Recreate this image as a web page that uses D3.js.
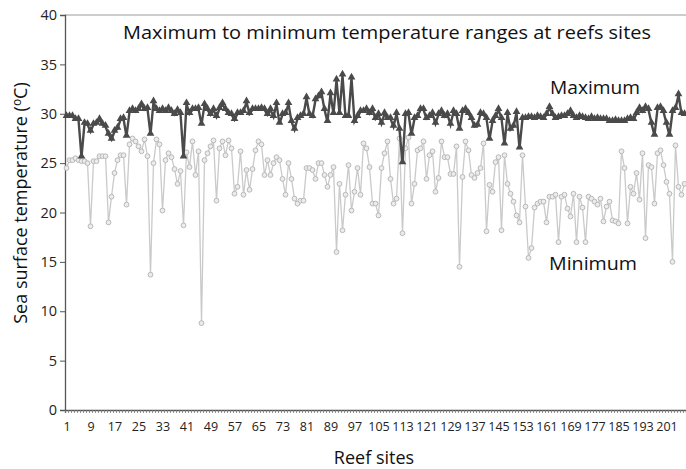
<!DOCTYPE html>
<html>
<head>
<meta charset="utf-8">
<script src="https://cdn.jsdelivr.net/npm/d3@7/dist/d3.min.js"></script>
<style>
html,body{margin:0;padding:0;background:#fff;}
svg{display:block;}
</style>
</head>
<body>
<script>
const sites = d3.range(1, 208);
const maxTemp = [
29.7,29.7,29.7,29.4,29.4,25.6,29.0,28.9,28.2,28.9,
29.0,29.4,28.9,28.7,27.9,27.4,28.2,28.5,29.4,29.5,
27.7,30.2,30.4,30.2,30.4,30.9,30.4,30.5,27.9,31.2,
30.4,30.2,30.4,30.2,30.5,30.2,29.9,30.3,30.0,25.6,
31.0,30.0,30.4,30.4,30.5,28.9,30.9,30.4,29.9,30.4,
29.7,30.5,31.0,30.4,30.0,29.9,29.4,30.0,30.0,30.2,
31.2,30.0,30.4,30.4,30.4,30.5,30.4,29.9,30.4,29.7,
31.0,29.0,29.9,30.0,31.0,29.2,28.4,29.5,29.7,29.9,
31.6,29.9,29.7,31.4,31.7,32.1,30.4,29.2,32.0,30.0,
33.4,30.0,33.9,29.7,29.7,33.6,29.2,29.7,30.2,30.2,
30.4,30.0,30.4,29.5,29.9,29.0,30.0,29.5,29.5,28.7,
30.0,28.4,25.0,29.9,30.0,27.9,29.5,29.7,30.4,30.4,
29.5,29.7,30.0,29.0,29.9,30.2,29.7,29.9,28.9,30.2,
29.9,28.4,30.2,30.4,30.0,29.5,28.7,28.8,30.0,29.9,
29.5,27.4,29.2,29.7,30.4,29.5,26.9,30.0,28.4,28.7,
30.1,26.5,29.5,29.5,29.6,29.6,29.5,29.7,29.6,29.5,
29.9,30.6,29.9,29.5,29.6,29.7,29.7,29.9,30.2,29.7,
29.5,29.7,29.6,29.5,29.4,29.6,29.4,29.5,29.4,29.4,
29.4,29.2,29.2,29.3,29.2,29.2,29.2,29.4,29.5,29.4,
30.0,30.5,30.2,30.6,30.4,29.0,27.8,30.5,30.6,30.2,
29.0,27.8,30.2,30.5,31.9,30.0,29.9
];
const minTemp = [
24.5,25.3,25.3,25.5,25.3,25.2,25.2,25.0,18.6,25.2,
25.2,25.7,25.7,25.7,19.0,21.6,24.0,25.3,25.8,25.8,
20.8,26.9,27.5,27.2,26.7,26.2,27.4,25.7,13.7,25.0,
27.4,26.9,20.2,25.3,26.0,25.6,24.4,22.9,24.2,18.7,
26.1,24.6,27.2,23.8,26.2,8.8,25.3,26.0,26.7,27.3,
21.2,26.5,27.2,25.8,27.3,26.5,21.9,22.6,26.2,21.8,
24.3,22.3,24.4,26.3,27.2,26.9,23.8,25.3,23.8,25.0,
25.6,25.3,23.4,21.8,25.0,23.4,21.4,20.9,21.2,21.2,
24.5,24.5,24.3,23.4,25.0,25.0,23.8,22.6,23.8,24.6,
16.0,22.9,18.2,21.8,24.8,20.2,22.1,24.5,21.8,27.0,
26.5,24.6,20.9,20.9,19.7,24.5,26.0,27.2,23.4,20.9,
21.4,27.5,17.9,26.5,27.6,20.9,22.9,26.3,26.5,27.2,
23.4,25.8,26.2,22.1,23.5,27.2,25.6,25.6,23.9,23.9,
26.7,14.5,23.6,27.2,26.3,23.8,23.5,24.0,24.5,27.0,
18.1,22.8,22.1,25.1,25.6,18.2,25.8,22.9,21.9,21.1,
19.7,19.0,25.8,20.6,15.4,16.4,20.5,20.9,21.1,21.1,
19.0,21.6,21.6,21.8,17.0,21.6,21.8,20.4,19.6,21.9,
17.0,21.6,20.5,17.0,21.6,21.4,21.1,20.8,21.4,19.1,
20.6,21.1,19.2,19.1,18.9,26.2,24.5,18.9,22.6,21.9,
24.0,21.3,26.0,17.4,24.8,24.6,20.9,26.0,26.3,24.8,
23.1,21.9,15.0,26.8,22.6,21.8,22.9
];
const yTicks = [0, 5, 10, 15, 20, 25, 30, 35, 40];
const xTickLabels = sites.filter(s => (s - 1) % 8 === 0);
const chartTitle = "Maximum to minimum temperature ranges at reefs sites";
const seriesNames = ["Maximum", "Minimum"];

const W = 686, H = 469;
const L = 65, T = 15, R = 686, B = 410;
const font = "'Open Sans', 'Noto Sans', sans-serif";

const svg = d3.select("body").append("svg").attr("width", W).attr("height", H);

const x = d3.scaleLinear().domain([0.5, 207.5]).range([L, R]);
const y = d3.scaleLinear().domain([0, 40]).range([B, T]);

// top border
svg.append("line").attr("x1", L).attr("x2", R).attr("y1", y(40)).attr("y2", y(40))
  .attr("stroke", "#9a9a9a").attr("stroke-width", 1);

// y axis
const yAxis = d3.axisLeft(y).tickValues(yTicks).tickSize(5).tickPadding(3).tickFormat(d3.format("d"));
const gy = svg.append("g").attr("transform", `translate(${L},0)`).call(yAxis);
gy.select(".domain").attr("stroke", "#555").attr("stroke-width", 1.3);
gy.selectAll(".tick line").attr("stroke", "#555");
gy.selectAll(".tick text").attr("font-family", font).attr("font-size", 14.5).attr("fill", "#222");

// x axis: minor ticks at every category boundary
const boundaries = d3.range(0, 208).map(i => i + 0.5);
const xAxisMinor = d3.axisBottom(x).tickValues(boundaries).tickSize(3).tickFormat("");
const gx = svg.append("g").attr("transform", `translate(0,${B})`).call(xAxisMinor);
gx.select(".domain").attr("stroke", "#555").attr("stroke-width", 1.3);
gx.selectAll(".tick line").attr("stroke", "#777").attr("stroke-width", 0.8);

const xAxisLabels = d3.axisBottom(x).tickValues(xTickLabels).tickSize(0).tickPadding(12);
const gx2 = svg.append("g").attr("transform", `translate(0,${B})`).call(xAxisLabels);
gx2.select(".domain").remove();
gx2.selectAll(".tick text").attr("font-family", "'Liberation Sans Narrow', 'Open Sans', sans-serif")
  .attr("font-size", 12.5).attr("fill", "#222");

// Minimum series
const lineMin = d3.line().x((d, i) => x(sites[i])).y(d => y(d));
svg.append("path").datum(minTemp).attr("d", lineMin)
  .attr("fill", "none").attr("stroke", "#cacaca").attr("stroke-width", 1.3);
svg.append("g").selectAll("circle").data(minTemp).join("circle")
  .attr("cx", (d, i) => x(sites[i])).attr("cy", d => y(d)).attr("r", 2.4)
  .attr("fill", "#ececec").attr("stroke", "#b8b8b8").attr("stroke-width", 1);

// Maximum series
const lineMax = d3.line().x((d, i) => x(sites[i])).y(d => y(d));
svg.append("path").datum(maxTemp).attr("d", lineMax)
  .attr("fill", "none").attr("stroke", "#4a4a4a").attr("stroke-width", 2.4);
const tri = d3.symbol().type(d3.symbolTriangle).size(26);
svg.append("g").selectAll("path").data(maxTemp).join("path")
  .attr("d", tri)
  .attr("transform", (d, i) => `translate(${x(sites[i])},${y(d) - 1})`)
  .attr("fill", "#4a4a4a");

// Title
svg.append("text").attr("x", 387).attr("y", 39).attr("text-anchor", "middle")
  .attr("font-family", font).attr("font-size", 17.5).attr("fill", "#111")
  .attr("textLength", 528).attr("lengthAdjust", "spacingAndGlyphs")
  .text(chartTitle);

// Series labels
svg.append("text").attr("x", 550).attr("y", 94).attr("font-family", font)
  .attr("font-size", 17.5).attr("fill", "#111")
  .attr("textLength", 90).attr("lengthAdjust", "spacingAndGlyphs").text(seriesNames[0]);
svg.append("text").attr("x", 549).attr("y", 270).attr("font-family", font)
  .attr("font-size", 17.5).attr("fill", "#111")
  .attr("textLength", 88).attr("lengthAdjust", "spacingAndGlyphs").text(seriesNames[1]);

// Axis titles
const yt = svg.append("text").attr("transform", "translate(27,203) rotate(-90)")
  .attr("text-anchor", "middle").attr("font-family", font).attr("font-size", 18).attr("fill", "#111");
yt.append("tspan").text("Sea surface temperature (");
yt.append("tspan").attr("font-size", 12).attr("dy", -6).text("o");
yt.append("tspan").attr("dy", 6).text("C)");

svg.append("text").attr("x", 374).attr("y", 464).attr("text-anchor", "middle")
  .attr("font-family", font).attr("font-size", 18).attr("fill", "#111").text("Reef sites");
</script>
</body>
</html>
